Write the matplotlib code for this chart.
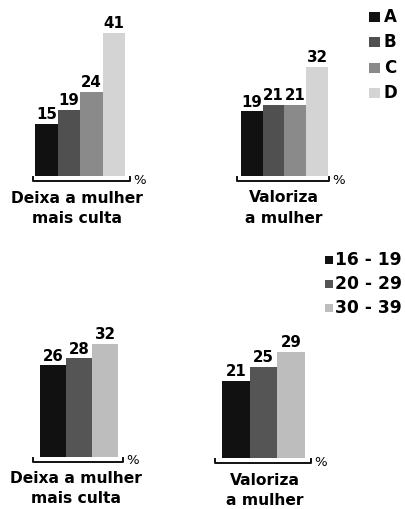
import matplotlib
matplotlib.use("Agg")
import matplotlib.pyplot as plt
from matplotlib.lines import Line2D
from matplotlib.patches import Rectangle

plt.rcParams["font.family"] = ["DejaVu Sans"]

W, H = 406, 509

# top row: groups A-D
top_groups = ["A", "B", "C", "D"]
top_colors = ["#111111", "#505050", "#8a8a8a", "#d4d4d4"]
culta_top = [15, 19, 24, 41]
valoriza_top = [19, 21, 21, 32]

# bottom row: age bands
age_groups = ["16 - 19", "20 - 29", "30 - 39"]
age_colors = ["#111111", "#555555", "#bdbdbd"]
culta_age = [26, 28, 32]
valoriza_age = [21, 25, 29]

cat_culta = "Deixa a mulher\nmais culta"
cat_valoriza = "Valoriza\na mulher"


def fx(px):
    return px / W


def fy(py):
    return 1 - py / H


fig = plt.figure(figsize=(W / 100, H / 100), dpi=100)
fig.patch.set_facecolor("white")


def panel(values, colors, left, right, base, ppu, br_left, br_right,
          label, label_x, baseline1, baseline2):
    ymax = 45
    ax = fig.add_axes([fx(left), fy(base), (right - left) / W, ppu * ymax / H])
    n = len(values)
    ax.bar(range(n), values, width=1.0, color=colors, edgecolor="none")
    for i, v in enumerate(values):
        ax.annotate(str(v), (i, v), xytext=(0, 3.5), textcoords="offset points",
                    ha="center", va="baseline", fontsize=10.8, fontweight="bold")
    ax.set_xlim(-0.5, n - 0.5)
    ax.set_ylim(0, ymax)
    ax.axis("off")

    # bracket under the bars
    yb = fy(base + 4.5)
    yt = fy(base + 0.5)
    fig.add_artist(Line2D([fx(br_left), fx(br_left), fx(br_right), fx(br_right)],
                          [yt, yb, yb, yt], color="#111111", lw=1.4,
                          transform=fig.transFigure))
    fig.text(fx(br_right + 3), fy(base + 4), "%", fontsize=9.5,
             ha="left", va="center")

    l1, l2 = label.split("\n")
    fig.text(fx(label_x), fy(baseline1), l1, ha="center", va="baseline",
             fontsize=11.2, fontweight="bold")
    fig.text(fx(label_x), fy(baseline2), l2, ha="center", va="baseline",
             fontsize=11.2, fontweight="bold")


panel(culta_top, top_colors, 35, 125, 176, 3.5, 33, 130,
      cat_culta, 77, 203, 223)
panel(valoriza_top, top_colors, 241, 328, 176, 3.4, 237, 329,
      cat_valoriza, 284, 202, 223)
panel(culta_age, age_colors, 40, 118, 457, 3.52, 33, 123,
      cat_culta, 76, 483, 503)
panel(valoriza_age, age_colors, 222, 305, 458, 3.66, 215, 311,
      cat_valoriza, 265, 485, 505)

# legend for the top row
for i, (g, c) in enumerate(zip(top_groups, top_colors)):
    yc = [17, 42, 68, 93][i]
    fig.add_artist(Rectangle((fx(369), fy(yc + 5)), 11 / W, 10 / H,
                             facecolor=c, edgecolor="none",
                             transform=fig.transFigure))
    fig.text(fx(384), fy(yc), g, ha="left", va="center",
             fontsize=12, fontweight="bold")

# legend for the bottom row
for i, (g, c) in enumerate(zip(age_groups, age_colors)):
    yc = 260 + 24 * i
    fig.add_artist(Rectangle((fx(325), fy(yc + 4)), 8 / W, 8 / H,
                             facecolor=c, edgecolor="none",
                             transform=fig.transFigure))
    fig.text(fx(335), fy(yc), g, ha="left", va="center",
             fontsize=12.3, fontweight="bold")

fig.savefig("out.png", dpi=100)
